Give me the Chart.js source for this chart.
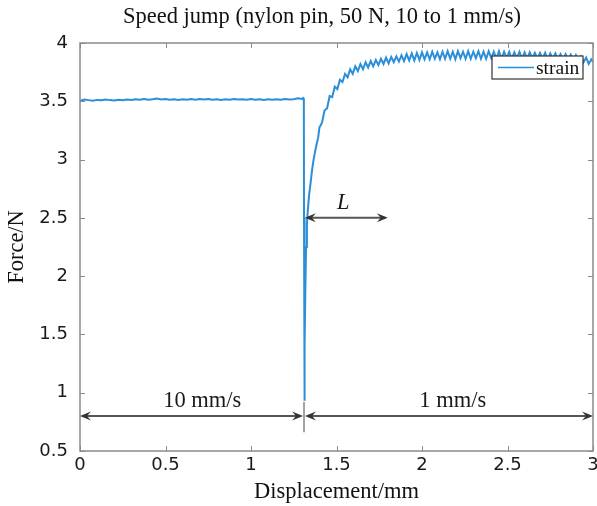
<!DOCTYPE html>
<html>
<head>
<meta charset="utf-8">
<title>Speed jump</title>
<script src="https://cdn.jsdelivr.net/npm/chart.js@4.4.0/dist/chart.umd.min.js"></script>
<style>
  html, body { margin: 0; padding: 0; background: #fff; }
</style>
</head>
<body>
<canvas id="myChart" width="597" height="506"></canvas>
<script>
// values
var displacement = [
  0.000, 0.025, 0.050, 0.075, 0.100, 0.125, 0.150, 0.175, 0.200, 0.225,
  0.250, 0.275, 0.300, 0.325, 0.350, 0.375, 0.400, 0.425, 0.450, 0.475,
  0.500, 0.525, 0.550, 0.575, 0.600, 0.625, 0.650, 0.675, 0.700, 0.725,
  0.750, 0.775, 0.800, 0.825, 0.850, 0.875, 0.900, 0.925, 0.950, 0.975,
  1.000, 1.025, 1.050, 1.075, 1.100, 1.125, 1.150, 1.175, 1.200, 1.225,
  1.250, 1.275, 1.300, 1.305, 1.309,
  1.310, 1.312, 1.313, 1.315, 1.318, 1.322, 1.327, 1.332, 1.340, 1.350,
  1.358, 1.366, 1.375, 1.385, 1.393,
  1.400, 1.415, 1.430, 1.445, 1.460, 1.475, 1.490, 1.505, 1.520, 1.535,
  1.550, 1.565, 1.580, 1.595, 1.610, 1.625, 1.640, 1.655, 1.670, 1.685,
  1.700, 1.715, 1.730, 1.745, 1.760, 1.775, 1.790, 1.805, 1.820, 1.835,
  1.850, 1.865, 1.880, 1.895, 1.910, 1.925, 1.940, 1.955, 1.970, 1.985,
  2.000, 2.015, 2.030, 2.045, 2.060, 2.075, 2.090, 2.105, 2.120, 2.135,
  2.150, 2.165, 2.180, 2.195, 2.210, 2.225, 2.240, 2.255, 2.270, 2.285,
  2.300, 2.315, 2.330, 2.345, 2.360, 2.375, 2.390, 2.405, 2.420, 2.435,
  2.450, 2.465, 2.480, 2.495, 2.510, 2.525, 2.540, 2.555, 2.570, 2.585,
  2.600, 2.615, 2.630, 2.645, 2.660, 2.675, 2.690, 2.705, 2.720, 2.735,
  2.750, 2.765, 2.780, 2.795, 2.810, 2.825, 2.840, 2.855, 2.870, 2.885,
  2.900, 2.915, 2.930, 2.945, 2.960, 2.975, 2.990, 3.000
];
var force = [
  3.505, 3.515, 3.510, 3.505, 3.512, 3.508, 3.515, 3.510, 3.507, 3.514,
  3.510, 3.516, 3.512, 3.518, 3.513, 3.520, 3.514, 3.518, 3.524, 3.516,
  3.520, 3.514, 3.518, 3.512, 3.517, 3.513, 3.519, 3.514, 3.520, 3.515,
  3.519, 3.513, 3.517, 3.512, 3.518, 3.514, 3.520, 3.515, 3.518, 3.513,
  3.519, 3.514, 3.518, 3.512, 3.517, 3.513, 3.518, 3.514, 3.519, 3.515,
  3.518, 3.525, 3.520, 3.528, 3.522,
  2.50, 1.50, 0.93, 1.40, 1.90, 2.25, 2.45, 2.56, 2.70, 2.82,
  2.92, 3.00, 3.07, 3.14, 3.19,
  3.275, 3.315, 3.420, 3.440, 3.545, 3.535, 3.625, 3.605, 3.685, 3.665,
  3.735, 3.705, 3.775, 3.735, 3.800, 3.760, 3.820, 3.775, 3.835, 3.790,
  3.845, 3.800, 3.855, 3.810, 3.865, 3.820, 3.875, 3.825, 3.880, 3.835,
  3.885, 3.840, 3.895, 3.845, 3.905, 3.850, 3.910, 3.850, 3.915, 3.855,
  3.920, 3.860, 3.920, 3.860, 3.925, 3.865, 3.920, 3.860, 3.925, 3.865,
  3.930, 3.865, 3.925, 3.860, 3.930, 3.870, 3.925, 3.865, 3.930, 3.865,
  3.925, 3.870, 3.930, 3.865, 3.925, 3.865, 3.930, 3.870, 3.925, 3.865,
  3.930, 3.865, 3.925, 3.870, 3.925, 3.865, 3.920, 3.870, 3.925, 3.865,
  3.920, 3.865, 3.920, 3.870, 3.915, 3.865, 3.915, 3.865, 3.915, 3.860,
  3.910, 3.865, 3.910, 3.860, 3.905, 3.860, 3.905, 3.855, 3.900, 3.850,
  3.895, 3.845, 3.885, 3.835, 3.875, 3.820, 3.860, 3.840
];
var xTicks = [0, 0.5, 1, 1.5, 2, 2.5, 3];
var xTickLabels = ['0', '0.5', '1', '1.5', '2', '2.5', '3'];
var yTicks = [0.5, 1, 1.5, 2, 2.5, 3, 3.5, 4];
var yTickLabels = ['0.5', '1', '1.5', '2', '2.5', '3', '3.5', '4'];
var seriesName = 'strain';

var serif = '"Liberation Serif", "Times New Roman", serif';
var sans = '"DejaVu Sans", Arial, sans-serif';

var points = displacement.map(function(d, i) { return {x: d, y: force[i]}; });

function arrowHead(ctx, x, y, dir) {
  ctx.beginPath();
  ctx.moveTo(x, y);
  ctx.lineTo(x - dir * 11, y - 4.5);
  ctx.lineTo(x - dir * 7, y);
  ctx.lineTo(x - dir * 11, y + 4.5);
  ctx.closePath();
  ctx.fill();
}

function doubleArrow(ctx, x1, x2, y) {
  ctx.beginPath();
  ctx.moveTo(x1 + 3, y);
  ctx.lineTo(x2 - 3, y);
  ctx.stroke();
  arrowHead(ctx, x1, y, -1);
  arrowHead(ctx, x2, y, 1);
}

var framePlugin = {
  id: 'frame',
  afterLayout: function(chart) {
    // title sits a bit right of the canvas centre in the reference
    chart.titleBlock.left = 47;
    chart.titleBlock.right = 597;
  },
  afterDatasetsDraw: function(chart) {
    var ctx = chart.ctx, a = chart.chartArea;
    var xs = chart.scales.x, ys = chart.scales.y;
    ctx.save();

    // inward ticks on all four sides
    ctx.strokeStyle = '#8a8a8a';
    ctx.lineWidth = 1;
    ctx.beginPath();
    xTicks.forEach(function(v) {
      var px = Math.round(xs.getPixelForValue(v)) + 0.5;
      ctx.moveTo(px, a.bottom); ctx.lineTo(px, a.bottom - 5);
      ctx.moveTo(px, a.top); ctx.lineTo(px, a.top + 5);
    });
    yTicks.forEach(function(v) {
      var py = Math.round(ys.getPixelForValue(v)) + 0.5;
      ctx.moveTo(a.left, py); ctx.lineTo(a.left + 5, py);
      ctx.moveTo(a.right, py); ctx.lineTo(a.right - 5, py);
    });
    ctx.stroke();

    // box
    ctx.strokeStyle = '#8a8a8a';
    ctx.lineWidth = 1.5;
    ctx.strokeRect(a.left, a.top, a.right - a.left, a.bottom - a.top);

    // speed annotations
    var jump = xs.getPixelForValue(1.31);
    var yArrow = ys.getPixelForValue(0.8);
    ctx.strokeStyle = '#555';
    ctx.fillStyle = '#333';
    ctx.lineWidth = 2;
    doubleArrow(ctx, xs.getPixelForValue(0), jump - 1, yArrow);
    doubleArrow(ctx, jump + 1, xs.getPixelForValue(3), yArrow);
    ctx.lineWidth = 1.2;
    ctx.strokeStyle = '#666';
    ctx.beginPath();
    ctx.moveTo(jump, ys.getPixelForValue(0.92));
    ctx.lineTo(jump, ys.getPixelForValue(0.66));
    ctx.stroke();

    // L arrow
    ctx.lineWidth = 2;
    ctx.strokeStyle = '#555';
    doubleArrow(ctx, xs.getPixelForValue(1.315), xs.getPixelForValue(1.8), ys.getPixelForValue(2.5));

    ctx.fillStyle = '#1a1a1a';
    ctx.textAlign = 'center';
    ctx.textBaseline = 'middle';
    ctx.font = '22.5px ' + serif;
    ctx.fillText('10 mm/s', xs.getPixelForValue(0.715), ys.getPixelForValue(0.93));
    ctx.fillText('1 mm/s', xs.getPixelForValue(2.18), ys.getPixelForValue(0.93));
    ctx.font = 'italic 22.5px ' + serif;
    ctx.fillText('L', xs.getPixelForValue(1.54), ys.getPixelForValue(2.63));

    // legend box
    var lx = a.right - 101, ly = a.top + 13, lw = 91, lh = 23;
    ctx.fillStyle = '#fff';
    ctx.fillRect(lx, ly, lw, lh);
    ctx.strokeStyle = '#333';
    ctx.lineWidth = 1.2;
    ctx.strokeRect(lx, ly, lw, lh);
    ctx.strokeStyle = chart.data.datasets[0].borderColor;
    ctx.lineWidth = 1.5;
    ctx.beginPath();
    ctx.moveTo(lx + 6, ly + lh / 2);
    ctx.lineTo(lx + 42, ly + lh / 2);
    ctx.stroke();
    ctx.fillStyle = '#111';
    ctx.textAlign = 'left';
    ctx.font = '19.5px ' + serif;
    ctx.fillText(chart.data.datasets[0].label, lx + 44, ly + lh / 2 + 1);

    ctx.restore();
  }
};

var ctx = document.getElementById('myChart').getContext('2d');
var chart = new Chart(ctx, {
  type: 'line',
  data: {
    datasets: [{
      label: seriesName,
      data: points,
      borderColor: '#2b8fd8',
      borderWidth: 2,
      pointRadius: 0,
      tension: 0,
      fill: false
    }]
  },
  options: {
    responsive: false,
    animation: false,
    devicePixelRatio: 1,
    layout: { padding: { left: 0, right: 4, top: 0, bottom: 0 } },
    plugins: {
      legend: { display: false },
      tooltip: { enabled: false },
      title: {
        display: true,
        text: 'Speed jump (nylon pin, 50 N, 10 to 1 mm/s)',
        color: '#111',
        font: { family: serif, size: 22.5, weight: 'normal' },
        padding: { top: 4, bottom: 12 }
      }
    },
    scales: {
      x: {
        type: 'linear',
        min: 0,
        max: 3,
        grid: { display: false, drawTicks: false },
        border: { display: false },
        afterBuildTicks: function(axis) {
          axis.ticks = xTicks.map(function(v) { return {value: v}; });
        },
        afterFit: function(axis) {
          axis.height = 55;
          axis.paddingLeft = 0;
          axis.paddingRight = 0;
        },
        ticks: {
          padding: 4,
          color: '#1a1a1a',
          font: { family: sans, size: 18 },
          maxRotation: 0,
          callback: function(v, i) { return xTickLabels[i]; }
        },
        title: {
          display: true,
          text: 'Displacement/mm',
          color: '#111',
          font: { family: serif, size: 22.5 },
          padding: { top: 0, bottom: 0 }
        }
      },
      y: {
        min: 0.5,
        max: 4,
        grid: { display: false, drawTicks: false },
        border: { display: false },
        afterBuildTicks: function(axis) {
          axis.ticks = yTicks.map(function(v) { return {value: v}; });
        },
        afterFit: function(axis) { axis.width = 80; },
        ticks: {
          padding: 12,
          color: '#1a1a1a',
          font: { family: sans, size: 18 },
          callback: function(v, i) { return yTickLabels[i]; }
        },
        title: {
          display: true,
          text: 'Force/N',
          color: '#111',
          font: { family: serif, size: 22.5 },
          padding: { top: 4, bottom: 0 }
        }
      }
    }
  },
  plugins: [framePlugin]
});
</script>
</body>
</html>
